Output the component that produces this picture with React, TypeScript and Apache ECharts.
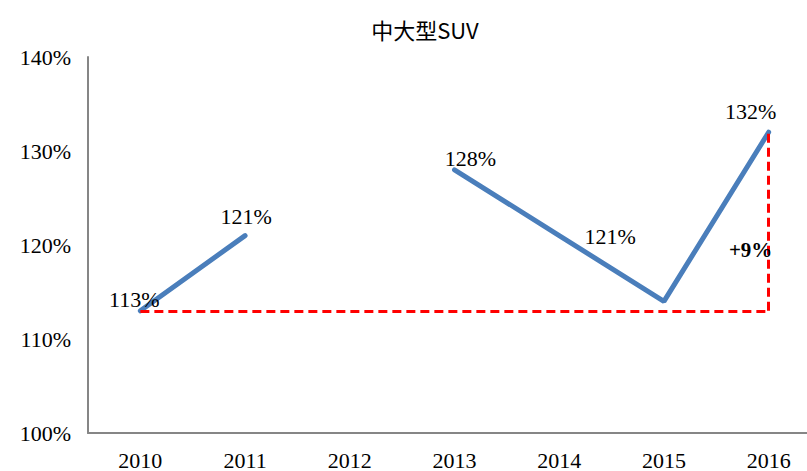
import React, { useEffect, useRef } from "react";
import * as echarts from "echarts";

const categories = ["2010", "2011", "2012", "2013", "2014", "2015", "2016"];
const values: (number | null)[] = [113, 121, null, 128, 121, 114, 132];
const labelOffsets: ([number, number] | null)[] = [
  [-6, 5], [1, -3], null, [16, 5], [51, 17], null, [-18, -4],
];
const showLabel = [true, true, false, true, true, false, true];
const baseValue = 113;
const endValue = 132;
const diffText = "+9%";
const yTicks = { min: 100, max: 140, interval: 10 };

const serif = "Liberation Serif";

export default function App() {
  const ref = useRef<HTMLDivElement>(null);
  useEffect(() => {
    if (!ref.current) return;
    const chart = echarts.init(ref.current, null, { renderer: "svg" });
    const data = values.map((v, i) => ({
      value: v,
      label: {
        show: showLabel[i],
        position: "top",
        offset: labelOffsets[i] || [0, 0],
      },
    }));
    chart.setOption({
      animation: false,
      title: {
        text: "中大型SUV",
        left: 420,
        textAlign: "center",
        top: 13,
        textStyle: {
          fontFamily: "Noto Sans CJK SC",
          fontWeight: "normal",
          fontSize: 22,
          color: "#000",
        },
      },
      grid: { left: 88, width: 733, top: 57, bottom: 38, outerBoundsMode: "none", containLabel: false },
      xAxis: {
        type: "category",
        data: categories,
        boundaryGap: true,
        axisLine: { lineStyle: { color: "#868686", width: 2 } },
        axisTick: { show: false },
        axisLabel: {
          fontFamily: serif,
          fontSize: 22,
          color: "#000",
          margin: 16,
        },
      },
      yAxis: {
        type: "value",
        min: yTicks.min,
        max: yTicks.max,
        interval: yTicks.interval,
        axisLine: { show: true, lineStyle: { color: "#868686", width: 2 } },
        axisTick: { show: false },
        splitLine: { show: false },
        axisLabel: {
          formatter: "{value}%",
          fontFamily: serif,
          fontSize: 22,
          color: "#000",
          margin: 17,
        },
      },
      series: [
        {
          type: "line",
          data,
          connectNulls: false,
          showSymbol: true,
          symbol: "circle",
          symbolSize: 1,
          itemStyle: { color: "#4a7ebb" },
          lineStyle: { color: "#4a7ebb", width: 5, cap: "round" },
          label: {
            show: true,
            formatter: (p: any) => `${p.value}%`,
            fontFamily: serif,
            fontSize: 22,
            color: "#000",
          },
          markLine: {
            silent: true,
            symbol: "none",
            lineStyle: { color: "#ff0000", type: [9, 5], width: 3 },
            label: { show: false },
            data: [
              [
                { coord: [categories[0], baseValue] },
                { coord: [categories[6], baseValue] },
              ],
              [
                { coord: [categories[6], baseValue] },
                { coord: [categories[6], endValue] },
              ],
            ],
          },
          markPoint: {
            silent: true,
            symbol: "circle",
            symbolSize: 0,
            data: [{ coord: [categories[6], 119.5], value: diffText }],
            label: {
              show: true,
              formatter: diffText,
              fontFamily: serif,
              fontWeight: "bold",
              fontSize: 21,
              color: "#000",
              offset: [-18, 0],
            },
          },
        },
      ],
    });
    return () => chart.dispose();
  }, []);
  return (
    <div
      ref={ref}
      style={{ position: "fixed", left: 0, top: 0, width: 807, height: 471, background: "#fff" }}
    />
  );
}
